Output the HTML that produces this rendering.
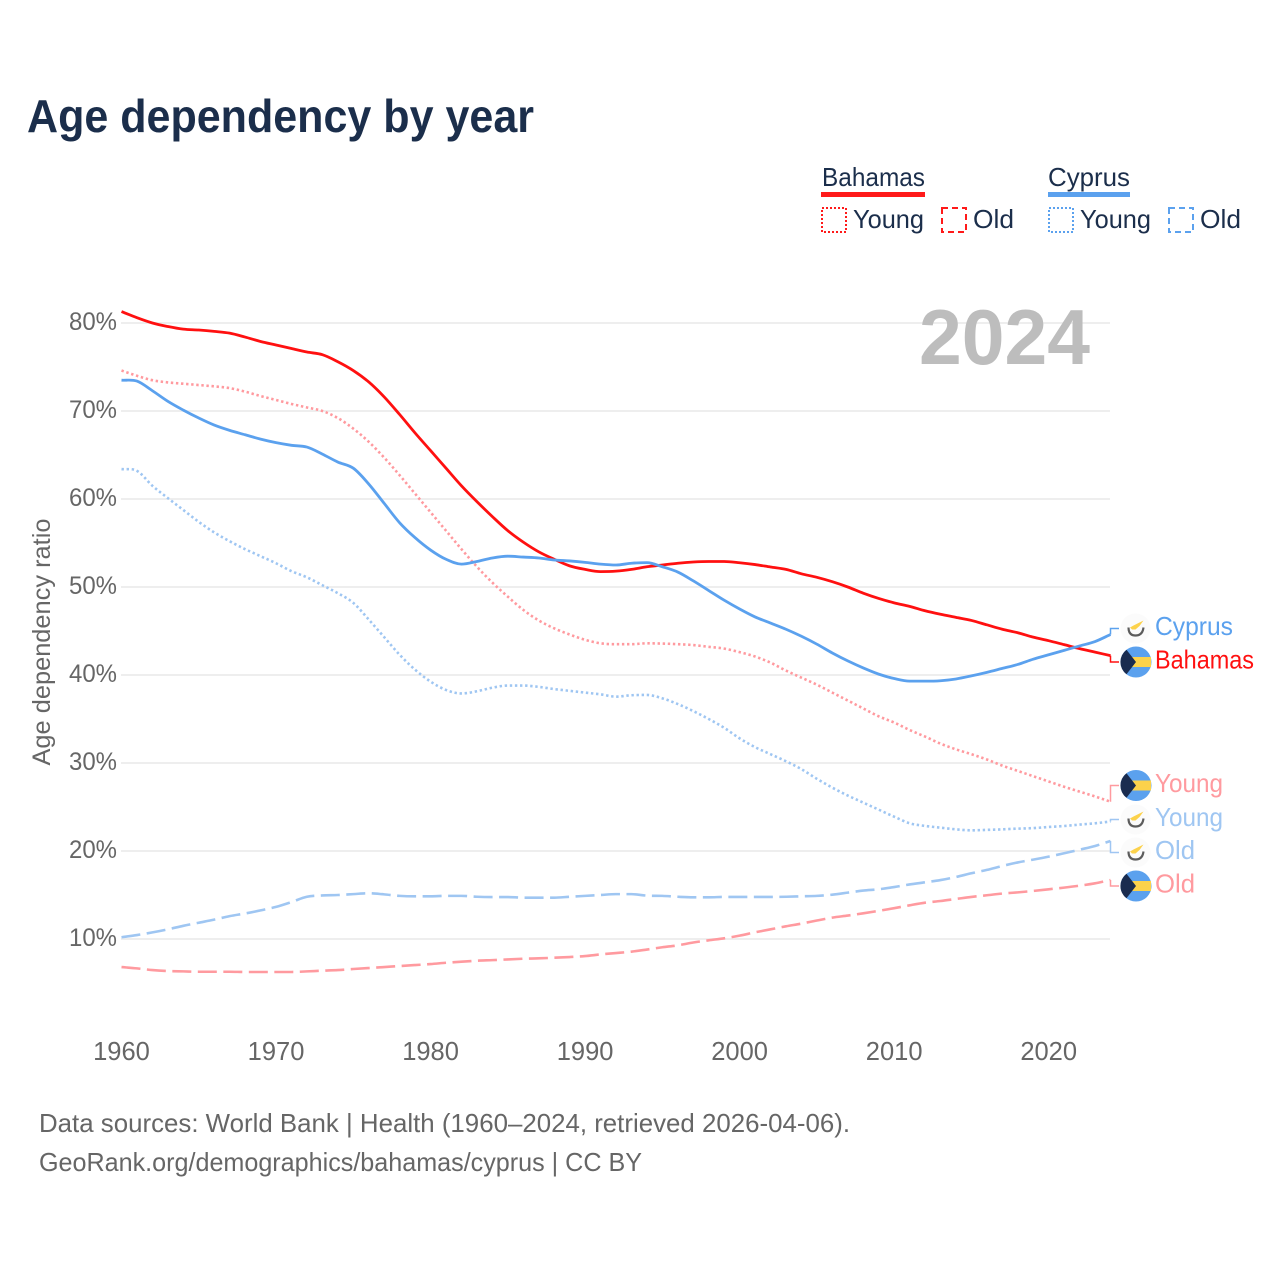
<!DOCTYPE html>
<html lang="en">
<head>
<meta charset="utf-8">
<title>Age dependency by year</title>
<style>
html,body{margin:0;padding:0;background:#fff;}
svg{display:block;font-family:"Liberation Sans",sans-serif;}
</style>
</head>
<body>
<svg id="chart" xmlns="http://www.w3.org/2000/svg" width="1280" height="1280" viewBox="0 0 1280 1280">
  <rect width="1280" height="1280" fill="#ffffff"/>
  <text x="27" y="132" font-size="46" font-weight="700" fill="#1b2e4b" textLength="507" lengthAdjust="spacingAndGlyphs">Age dependency by year</text>

  <g>
    <text x="822" y="186" font-size="26" fill="#1b2e4b" textLength="103" lengthAdjust="spacingAndGlyphs">Bahamas</text>
    <rect x="821" y="192" width="104" height="5" fill="#ff1a1a"/>
    <rect x="822" y="208" width="24" height="24" fill="none" stroke="#ff1a1a" stroke-width="2" stroke-dasharray="2 2"/>
    <text x="853" y="228" font-size="26" fill="#1b2e4b" textLength="71" lengthAdjust="spacingAndGlyphs">Young</text>
    <rect x="942" y="208" width="24" height="24" fill="none" stroke="#ff1a1a" stroke-width="2" stroke-dasharray="6 4"/>
    <text x="973" y="228" font-size="26" fill="#1b2e4b" textLength="41" lengthAdjust="spacingAndGlyphs">Old</text>
    <text x="1048" y="186" font-size="26" fill="#1b2e4b" textLength="82" lengthAdjust="spacingAndGlyphs">Cyprus</text>
    <rect x="1048" y="192" width="82" height="5" fill="#5ba1ee"/>
    <rect x="1049" y="208" width="24" height="24" fill="none" stroke="#5ba1ee" stroke-width="2" stroke-dasharray="2 2"/>
    <text x="1080" y="228" font-size="26" fill="#1b2e4b" textLength="71" lengthAdjust="spacingAndGlyphs">Young</text>
    <rect x="1169" y="208" width="24" height="24" fill="none" stroke="#5ba1ee" stroke-width="2" stroke-dasharray="6 4"/>
    <text x="1200" y="228" font-size="26" fill="#1b2e4b" textLength="41" lengthAdjust="spacingAndGlyphs">Old</text>
  </g>

  <g id="grid"></g>
  <text x="919" y="364" font-size="78" font-weight="700" fill="#bdbdbd" textLength="171" lengthAdjust="spacingAndGlyphs">2024</text>
  <g id="y-ticks"></g>
  <g id="x-ticks"></g>
  <text transform="translate(50,642) rotate(-90)" text-anchor="middle" font-size="25" fill="#666666" textLength="247" lengthAdjust="spacingAndGlyphs">Age dependency ratio</text>
  <g id="lines"></g>
  <g id="labels"></g>

  <text x="39" y="1132" font-size="26" fill="#666666" textLength="811" lengthAdjust="spacingAndGlyphs">Data sources: World Bank | Health (1960–2024, retrieved 2026-04-06).</text>
  <text x="39" y="1171" font-size="26" fill="#666666" textLength="603" lengthAdjust="spacingAndGlyphs">GeoRank.org/demographics/bahamas/cyprus | CC BY</text>
</svg>

<script>
const startYear = 1960;
const yTickValues = [10, 20, 30, 40, 50, 60, 70, 80];
const yTickLabels = ["10%", "20%", "30%", "40%", "50%", "60%", "70%", "80%"];
const xTickValues = [1960, 1970, 1980, 1990, 2000, 2010, 2020];
const xTickLabels = ["1960", "1970", "1980", "1990", "2000", "2010", "2020"];

const bahamasTotal = [81.3,80.6,80,79.6,79.3,79.2,79.05,78.85,78.4,77.9,77.5,77.1,76.7,76.4,75.6,74.6,73.3,71.6,69.6,67.5,65.5,63.5,61.5,59.7,58,56.4,55.1,54,53.15,52.4,52,51.75,51.8,52,52.3,52.5,52.7,52.84,52.9,52.9,52.76,52.55,52.27,52,51.5,51.1,50.6,50,49.3,48.7,48.2,47.8,47.3,46.9,46.55,46.2,45.7,45.2,44.8,44.3,43.9,43.45,43,42.6,42.2];
const cyprusTotal = [73.5,73.4,72.3,71.1,70.1,69.2,68.4,67.8,67.3,66.8,66.4,66.1,65.9,65.1,64.2,63.5,61.7,59.5,57.3,55.6,54.2,53.15,52.6,52.9,53.3,53.5,53.4,53.3,53.07,52.96,52.8,52.6,52.5,52.7,52.77,52.3,51.7,50.7,49.6,48.5,47.5,46.6,45.9,45.2,44.4,43.5,42.5,41.6,40.8,40.1,39.6,39.3,39.3,39.35,39.55,39.9,40.3,40.75,41.2,41.8,42.3,42.8,43.3,43.8,44.6];
const bahamasYoung = [74.6,74,73.5,73.25,73.1,72.95,72.8,72.6,72.2,71.7,71.25,70.8,70.4,70,69.2,68,66.5,64.7,62.7,60.6,58.5,56.4,54.3,52.3,50.5,48.9,47.4,46.2,45.3,44.6,44,43.6,43.5,43.5,43.6,43.57,43.5,43.4,43.2,43,42.6,42.1,41.4,40.5,39.7,38.9,38,37.1,36.2,35.3,34.6,33.75,33,32.2,31.55,31,30.4,29.7,29.1,28.5,27.9,27.3,26.75,26.2,25.6];
const cyprusYoung = [63.4,63.2,61.5,60.1,58.75,57.4,56.2,55.2,54.3,53.5,52.7,51.8,51.1,50.2,49.3,48.2,46.3,44.3,42.3,40.6,39.25,38.3,37.9,38.15,38.56,38.8,38.8,38.65,38.4,38.2,38,37.8,37.54,37.7,37.73,37.35,36.7,35.9,35,34,32.8,31.8,31,30.2,29.3,28.2,27.2,26.3,25.5,24.7,23.9,23.15,22.85,22.65,22.46,22.35,22.4,22.46,22.54,22.6,22.73,22.84,23,23.15,23.35];
const bahamasOld = [6.81,6.66,6.47,6.36,6.32,6.28,6.28,6.28,6.25,6.25,6.25,6.25,6.32,6.4,6.47,6.59,6.7,6.81,6.93,7.04,7.15,7.3,7.42,7.53,7.6,7.68,7.76,7.8,7.87,7.95,8.06,8.25,8.4,8.56,8.8,9.06,9.28,9.6,9.85,10.08,10.38,10.76,11.1,11.44,11.75,12.1,12.43,12.66,12.92,13.2,13.5,13.83,14.13,14.32,14.55,14.78,14.97,15.16,15.3,15.46,15.65,15.84,16.06,16.33,16.7];
const cyprusOld = [10.2,10.45,10.75,11.1,11.5,11.85,12.2,12.6,12.9,13.25,13.65,14.2,14.8,14.95,15,15.1,15.2,15.07,14.9,14.85,14.85,14.9,14.9,14.8,14.77,14.77,14.7,14.7,14.7,14.8,14.9,15,15.1,15.1,14.93,14.9,14.8,14.74,14.74,14.78,14.78,14.78,14.78,14.8,14.85,14.9,15.04,15.27,15.5,15.65,15.9,16.2,16.44,16.7,17.05,17.47,17.85,18.3,18.7,19.02,19.36,19.74,20.15,20.57,21.14];

const SVG_NS = "http://www.w3.org/2000/svg";
function xScale(year) { return 121.5 + (year - 1960) * 15.453; }
function yScale(v) { return 939 - (v - 10) * 8.8; }
function make(tag, attrs, parent) {
  const node = document.createElementNS(SVG_NS, tag);
  for (const k in attrs) node.setAttribute(k, attrs[k]);
  parent.appendChild(node);
  return node;
}
// Monotone cubic path through the scaled points (same idea as d3.curveMonotoneX)
function smoothPath(xs, ys) {
  const n = xs.length, d = [], m = [];
  for (let i = 0; i < n - 1; i++) d.push((ys[i + 1] - ys[i]) / (xs[i + 1] - xs[i]));
  m.push(d[0]);
  for (let i = 1; i < n - 1; i++) m.push(d[i - 1] * d[i] <= 0 ? 0 : (d[i - 1] + d[i]) / 2);
  m.push(d[n - 2]);
  let out = "M" + xs[0].toFixed(2) + " " + ys[0].toFixed(2);
  for (let i = 0; i < n - 1; i++) {
    const h = (xs[i + 1] - xs[i]) / 3;
    out += "C" + (xs[i] + h).toFixed(2) + " " + (ys[i] + m[i] * h).toFixed(2) + " " + (xs[i + 1] - h).toFixed(2) + " " + (ys[i + 1] - m[i + 1] * h).toFixed(2) + " " + xs[i + 1].toFixed(2) + " " + ys[i + 1].toFixed(2);
  }
  return out;
}

const gridG = document.getElementById("grid");
const yTickG = document.getElementById("y-ticks");
const xTickG = document.getElementById("x-ticks");
const linesG = document.getElementById("lines");
const labelsG = document.getElementById("labels");

yTickValues.forEach(function (v, i) {
  const line = make("rect", { x: 121, y: yScale(v) - 1, width: 989, height: 2, fill: "#eeeeee" }, gridG);
  
  
  const t = make("text", { x: 117, y: yScale(v) + 7, "text-anchor": "end", "font-size": 25, fill: "#666666", textLength: yTickLabels[i].length * 16, lengthAdjust: "spacingAndGlyphs" }, yTickG);
  
  
  t.textContent = yTickLabels[i];
});

xTickValues.forEach(function (yr, i) {
  const t = make("text", { x: xScale(yr), y: 1060, "text-anchor": "middle", "font-size": 25.5, fill: "#666666" }, xTickG);
  
  
  t.textContent = xTickLabels[i];
});

function drawLine(values, color, width, dash, name) {
  const xs = values.map(function (v, i) { return xScale(startYear + i); });
  const ys = values.map(function (v) { return yScale(v); });
  const attrs = { d: smoothPath(xs, ys), fill: "none", stroke: color, "stroke-width": width, "stroke-linejoin": "round" };
  if (dash) attrs["stroke-dasharray"] = dash;
  const line = make("path", attrs, linesG);
  
  
}

const RED = "#ff1010", BLUE = "#5ba1ee", RED_SOFT = "#ff9a9f", BLUE_SOFT = "#9fc6f2";
drawLine(cyprusOld, BLUE_SOFT, 2.6, "19 6.5", "cyprus-old-line");
drawLine(bahamasOld, RED_SOFT, 2.6, "19 6.5", "bahamas-old-line");
drawLine(cyprusYoung, BLUE_SOFT, 2.6, "2.4 2.7", "cyprus-young-line");
drawLine(bahamasYoung, RED_SOFT, 2.6, "2.4 2.7", "bahamas-young-line");
drawLine(bahamasTotal, RED, 2.8, null, "bahamas-total-line");
drawLine(cyprusTotal, BLUE, 2.8, null, "cyprus-total-line");

function drawBahamasFlag(cy, parent) {
  const cx = 1136;
  const g = make("g", {}, parent);
  
  
  make("circle", { cx: cx, cy: cy, r: 15.5, fill: "#5ba1ee" }, g);
  make("path", { d: "M" + (cx - 14) + " " + (cy - 5) + "H" + (cx + 15) + "V" + (cy + 5) + "H" + (cx - 14) + "Z", fill: "#fcd24b" }, g);
  make("path", { d: "M" + cx + " " + cy + "L" + (cx - 9.5) + " " + (cy - 12.3) + "A15.5 15.5 0 0 0 " + (cx - 9.5) + " " + (cy + 12.3) + "Z", fill: "#1a2c4f" }, g);
}
function drawCyprusFlag(cy, parent) {
  const cx = 1135.5;
  const g = make("g", {}, parent);
  
  
  make("circle", { cx: cx, cy: cy, r: 15, fill: "#fbfbfb" }, g);
  make("path", { d: "M" + (cx - 7) + " " + (cy - 1) + "Q" + (cx - 7) + " " + (cy + 7) + " " + cx + " " + (cy + 7) + "Q" + (cx + 7) + " " + (cy + 7) + " " + (cx + 8) + " " + (cy - 1), fill: "none", stroke: "#5c5c5c", "stroke-width": 2.2 }, g);
  make("path", { d: "M" + (cx - 5.5) + " " + (cy - 1) + "L" + (cx - 2) + " " + (cy - 3) + "L" + (cx + 8) + " " + (cy - 8) + "L" + (cx + 4) + " " + (cy - 2.5) + "L" + cx + " " + (cy + 1) + "L" + (cx - 3.5) + " " + (cy + 1) + "Z", fill: "#fcd24b" }, g);
}

function endLabel(values, text, color, labelY, width, flag, name) {
  const endY = yScale(values[values.length - 1]);
  const elbowY = labelY;
  const link = make("polyline", { points: "1110.5," + endY.toFixed(2) + " 1110.5," + elbowY + " 1119," + elbowY, fill: "none", stroke: color, "stroke-width": 1.5 }, labelsG);
  
  
  flag(labelY, labelsG);
  const t = make("text", { x: 1155, y: labelY + 6.5, "font-size": 26, fill: color, textLength: width, lengthAdjust: "spacingAndGlyphs" }, labelsG);
  
  
  t.textContent = text;
}

endLabel(cyprusTotal, "Cyprus", BLUE, 628.5, 78, drawCyprusFlag, "cyprus-total");
endLabel(bahamasTotal, "Bahamas", RED, 662, 99, drawBahamasFlag, "bahamas-total");
endLabel(bahamasYoung, "Young", RED_SOFT, 785.5, 68, drawBahamasFlag, "bahamas-young");
endLabel(cyprusYoung, "Young", BLUE_SOFT, 819.5, 68, drawCyprusFlag, "cyprus-young");
endLabel(cyprusOld, "Old", BLUE_SOFT, 852.5, 40, drawCyprusFlag, "cyprus-old");
endLabel(bahamasOld, "Old", RED_SOFT, 886, 40, drawBahamasFlag, "bahamas-old");
</script>
</body>
</html>
